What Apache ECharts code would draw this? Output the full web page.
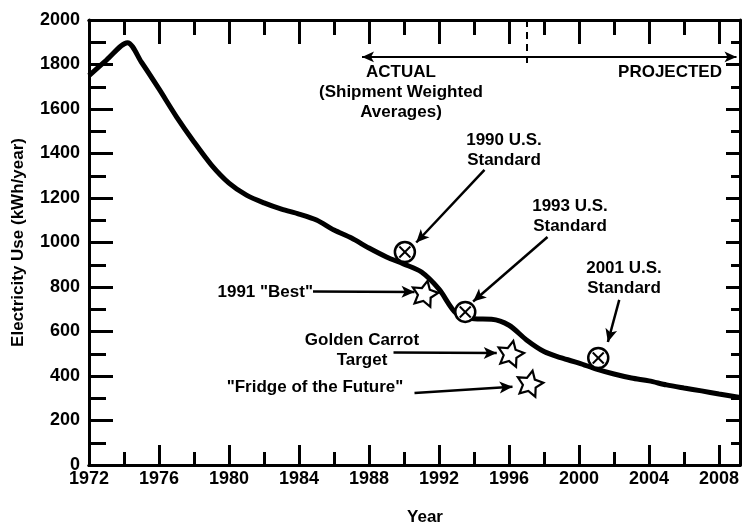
<!DOCTYPE html>
<html>
<head>
<meta charset="utf-8">
<script src="https://cdn.jsdelivr.net/npm/echarts@6/dist/echarts.min.js"></script>
<style>
  html, body { margin: 0; padding: 0; background: #fff; }
  #chart { width: 746px; height: 523px; }
</style>
</head>
<body>
<div id="chart"></div>
<script>
// shipment weighted average use, then projection (kWh/year)
var years = [1972, 1973, 1974.2, 1975, 1976, 1977, 1978, 1979, 1980, 1981, 1982, 1983, 1984, 1985, 1986, 1987, 1988, 1989, 1990, 1991, 1992, 1993, 1994, 1995, 1996, 1997, 1998, 1999, 2000, 2001, 2002, 2003, 2004, 2005, 2006, 2007, 2008, 2009.2];
var usage = [1750, 1820, 1898, 1810, 1690, 1565, 1452, 1348, 1267, 1213, 1178, 1150, 1128, 1101, 1056, 1020, 975, 935, 903, 867, 790, 680, 657, 655, 628, 562, 510, 481, 458, 431, 409, 391, 378, 360, 346, 333, 319, 303];

// standards (circle with X)
var standardYears = [1990.05, 1993.5, 2001.1];
var standardValues = [957, 688, 481];

// targets (stars): 1991 Best, Golden Carrot, Fridge of the Future
var targetYears = [1991.2, 1996.1, 1997.2];
var targetValues = [773, 503, 369];

var yTicks = [0, 200, 400, 600, 800, 1000, 1200, 1400, 1600, 1800, 2000];
var xTicks = [1972, 1976, 1980, 1984, 1988, 1992, 1996, 2000, 2004, 2008];

// annotation arrows: [fromYear, fromValue, toYear, toValue]
var arrows = [
    [1994.6, 1326, 1990.7, 1000],
    [1998.2, 1025, 1993.95, 735],
    [2002.3, 742, 2001.65, 553],
    [1984.8, 780, 1990.6, 778],
    [1989.4, 506, 1995.3, 503],
    [1990.6, 324, 1996.2, 352]
];

var fontFam = '"Liberation Sans", Arial, Helvetica, sans-serif';

var chart = echarts.init(document.getElementById('chart'));

var data = [];
for (var i = 0; i < years.length; i++) data.push([years[i], usage[i]]);
var stdData = [];
for (var i = 0; i < standardYears.length; i++) stdData.push([standardYears[i], standardValues[i]]);
var tgtData = [];
for (var i = 0; i < targetYears.length; i++) tgtData.push([targetYears[i], targetValues[i]]);

var arrowLines = [];
for (var i = 0; i < arrows.length; i++) {
    arrowLines.push([{ coord: [arrows[i][0], arrows[i][1]] }, { coord: [arrows[i][2], arrows[i][3]] }]);
}

var starPath = 'path://M0,-10 L2.94,-4.05 L9.51,-3.09 L4.76,1.55 L5.88,8.09 L0,5 L-5.88,8.09 L-4.76,1.55 L-9.51,-3.09 L-2.94,-4.05 Z';

var black = '#000';
var xMin = 1972, xMax = 2009.2;

function xAxisDef(pos, tickLen, interval, withLabel) {
    return {
        type: 'value', position: pos, min: xMin, max: xMax, interval: interval,
        axisLine: { show: true, lineStyle: { color: black, width: 3 } },
        axisTick: { show: true, inside: true, length: tickLen, lineStyle: { color: black, width: 3 } },
        splitLine: { show: false },
        axisLabel: withLabel ? {
            show: true, color: black, fontFamily: fontFam, fontWeight: 'bold', fontSize: 18, margin: 5,
            showMaxLabel: false,
            formatter: function (v) { return xTicks.indexOf(v) >= 0 ? String(v) : ''; }
        } : { show: false }
    };
}

var option = {
    animation: false,
    backgroundColor: '#fff',
    grid: { left: 89, right: 6, top: 20, bottom: 58 },
    xAxis: [
        xAxisDef('bottom', 20, 4, true),
        xAxisDef('bottom', 13, 2, false),
        xAxisDef('top', 24, 4, false),
        xAxisDef('top', 15, 2, false)
    ],
    yAxis: [
        {
            type: 'value', position: 'left', min: 0, max: 2000, interval: 200,
            name: 'Electricity Use (kWh/year)', nameLocation: 'middle', nameGap: 62,
            nameTextStyle: { color: black, fontFamily: fontFam, fontWeight: 'bold', fontSize: 17 },
            axisLine: { show: true, lineStyle: { color: black, width: 3 } },
            axisTick: { show: true, inside: true, length: 24, lineStyle: { color: black, width: 3 } },
            minorTick: { show: true, splitNumber: 2, length: 17, lineStyle: { color: black, width: 3 } },
            splitLine: { show: false },
            axisLabel: {
                color: black, fontFamily: fontFam, fontWeight: 'bold', fontSize: 18, margin: 9,
                formatter: function (v) { return yTicks.indexOf(v) >= 0 ? String(v) : ''; }
            }
        },
        {
            type: 'value', position: 'right', min: 0, max: 2000, interval: 200,
            axisLine: { show: true, lineStyle: { color: black, width: 3 } },
            axisTick: { show: true, inside: true, length: 14, lineStyle: { color: black, width: 3 } },
            minorTick: { show: true, splitNumber: 2, length: 9, lineStyle: { color: black, width: 3 } },
            splitLine: { show: false },
            axisLabel: { show: false }
        }
    ],
    series: [
        {
            type: 'line', data: data, smooth: 0.3, symbol: 'none',
            lineStyle: { color: black, width: 5 }, z: 3
        },
        {
            type: 'custom', data: stdData, z: 5,
            renderItem: function (params, api) {
                var p = api.coord([api.value(0), api.value(1)]);
                var r = 10, d = 5.5;
                return {
                    type: 'group',
                    children: [
                        { type: 'circle', shape: { cx: p[0], cy: p[1], r: r }, style: { fill: '#fff', stroke: black, lineWidth: 2.5 } },
                        { type: 'line', shape: { x1: p[0] - d, y1: p[1] - d, x2: p[0] + d, y2: p[1] + d }, style: { stroke: black, lineWidth: 2 } },
                        { type: 'line', shape: { x1: p[0] - d, y1: p[1] + d, x2: p[0] + d, y2: p[1] - d }, style: { stroke: black, lineWidth: 2 } }
                    ]
                };
            }
        },
        {
            type: 'scatter', data: tgtData, symbol: starPath, symbolSize: 26, symbolKeepAspect: true,
            symbolRotate: -12, z: 5,
            itemStyle: { color: '#fff', borderColor: black, borderWidth: 2.2, opacity: 1 }
        },
        {
            type: 'line', data: [], silent: true,
            markLine: {
                silent: true, animation: false,
                symbol: ['none', 'arrow'], symbolSize: [9, 13],
                label: { show: false },
                lineStyle: { color: black, width: 2.5, type: 'solid' },
                data: arrowLines
            }
        },
        {
            type: 'line', data: [], silent: true,
            markLine: {
                silent: true, animation: false,
                symbol: ['arrow', 'arrow'], symbolSize: [8, 12],
                label: { show: false },
                lineStyle: { color: black, width: 2, type: 'solid' },
                data: [[{ coord: [1987.6, 1834] }, { coord: [2009.0, 1834] }]]
            }
        },
        {
            type: 'line', data: [], silent: true,
            markLine: {
                silent: true, animation: false,
                symbol: ['none', 'none'],
                label: { show: false },
                lineStyle: { color: black, width: 2, type: [7, 5] },
                data: [[{ coord: [1997.0, 2000] }, { coord: [1997.0, 1790] }]]
            }
        }
    ],
    graphic: []
};

// annotation labels: [text, x, top, align]
var notes = [
    ['ACTUAL\n(Shipment Weighted\nAverages)', 401, 62, 'center'],
    ['PROJECTED', 670, 62, 'center'],
    ['1990 U.S.\nStandard', 504, 130, 'center'],
    ['1993 U.S.\nStandard', 570, 196, 'center'],
    ['2001 U.S.\nStandard', 624, 258, 'center'],
    ['1991 "Best"', 313, 282, 'right'],
    ['Golden Carrot\nTarget', 362, 330, 'center'],
    ['"Fridge of the Future"', 315, 377, 'center'],
    ['Year', 425, 507, 'center']
];
for (var i = 0; i < notes.length; i++) {
    option.graphic.push({
        type: 'text', silent: true,
        style: {
            text: notes[i][0], x: notes[i][1], y: notes[i][2], textAlign: notes[i][3],
            fill: black, font: 'bold 17px ' + fontFam, lineHeight: 20
        }
    });
}

chart.setOption(option);
</script>
</body>
</html>
